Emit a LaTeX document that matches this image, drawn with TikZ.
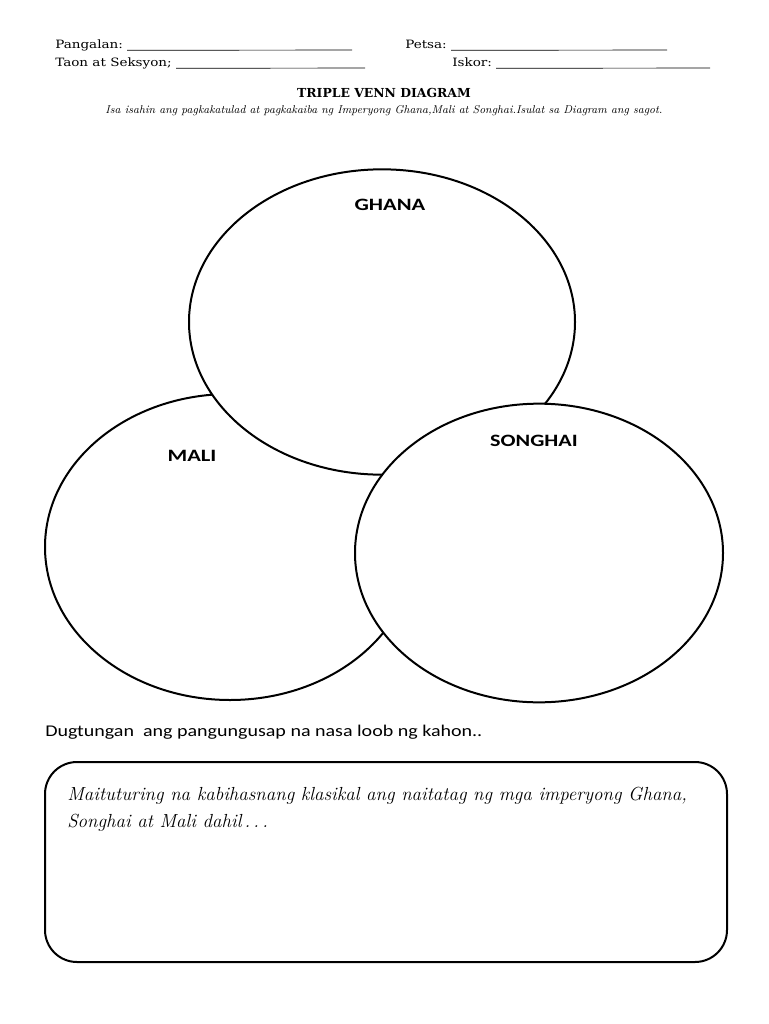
\documentclass[tikz,border=0pt]{standalone}
\usepackage{fontspec}
\usetikzlibrary{shapes.geometric}
\newfontfamily\hdrfont{DejaVu Serif}
\newfontfamily\califont{Carlito}
\newcommand{\widetext}[2]{\scalebox{#1}[1]{#2}}
\begin{document}
\begin{tikzpicture}[x=0.75pt,y=-0.75pt,
  hdr/.style={font=\hdrfont\fontsize{8.6}{10}\selectfont, anchor=base west, inner sep=0pt},
  uline/.style={line width=0.5pt},
  setshape/.style={ellipse, draw, line width=1.5pt, fill=white, inner sep=0pt},
  setlabel/.style={font=\califont\bfseries\fontsize{13}{16}\selectfont, inner sep=0pt},
  answerbox/.style={draw, line width=1.5pt, rounded corners=24pt, inner sep=0pt}]
\useasboundingbox[fill=white] (0,0) rectangle (768,1024);

% header
\node[hdr] (pang) at (55,49) {\widetext{1.18}{Pangalan:}};
\coordinate (pangE) at (352,50);
\draw[uline] ([xshift=3pt,yshift=-1pt]pang.base east) -- (pangE);
\node[hdr] (petsa) at (405,49) {\widetext{1.18}{Petsa:}};
\coordinate (petsaE) at (667,50);
\draw[uline] ([xshift=3pt,yshift=-1pt]petsa.base east) -- (petsaE);
\node[hdr] (taon) at (55,67) {\widetext{1.18}{Taon at Seksyon;}};
\coordinate (taonE) at (365,68);
\draw[uline] ([xshift=3pt,yshift=-1pt]taon.base east) -- (taonE);
\node[hdr] (iskor) at (452,67) {\widetext{1.18}{Iskor:}};
\coordinate (iskorE) at (710,68);
\draw[uline] ([xshift=3pt,yshift=-1pt]iskor.base east) -- (iskorE);

\node[font=\hdrfont\bfseries\fontsize{9.3}{10}\selectfont, inner sep=0pt] (title) at (384,93) {TRIPLE VENN DIAGRAM};
\node[font=\itshape\fontsize{8.5}{10}\selectfont, inner sep=0pt] (sub) at (384,111) {Isa isahin ang pagkakatulad at pagkakaiba ng Imperyong Ghana,Mali at Songhai.Isulat sa Diagram ang sagot.};

% Venn
\node[setshape, minimum width=277.5pt, minimum height=229.5pt] (mali) at (230,547) {};
\node[setshape, minimum width=289.5pt, minimum height=229pt] (ghana) at (382,322) {};
\node[setshape, minimum width=276pt, minimum height=224pt] (songhai) at (539,553) {};
\node[setlabel] (ghanaL) at (390,205) {\widetext{1.3}{GHANA}};
\node[setlabel] (maliL) at (192,456) {\widetext{1.3}{MALI}};
\node[setlabel] (songhaiL) at (534,441) {\widetext{1.28}{SONGHAI}};

% instruction
\node[font=\califont\fontsize{12.3}{14}\selectfont, anchor=base west, inner sep=0pt] (dug) at (45,736) {\widetext{1.22}{Dugtungan\ \ ang pangungusap na nasa loob ng kahon..}};

% answer box
\node[answerbox, minimum width=511.5pt, minimum height=150pt] (box) at (386,862) {};
\node[font=\itshape\fontsize{14.2}{16}\selectfont, anchor=base west, inner sep=0pt] (l1) at (67,800) {Maituturing na kabihasnang klasikal ang naitatag ng mga imperyong Ghana,};
\node[font=\itshape\fontsize{14.2}{16}\selectfont, anchor=base west, inner sep=0pt] (l2) at (67,827) {Songhai at Mali dahil\,.\,.\,.};
\end{tikzpicture}
\end{document}
